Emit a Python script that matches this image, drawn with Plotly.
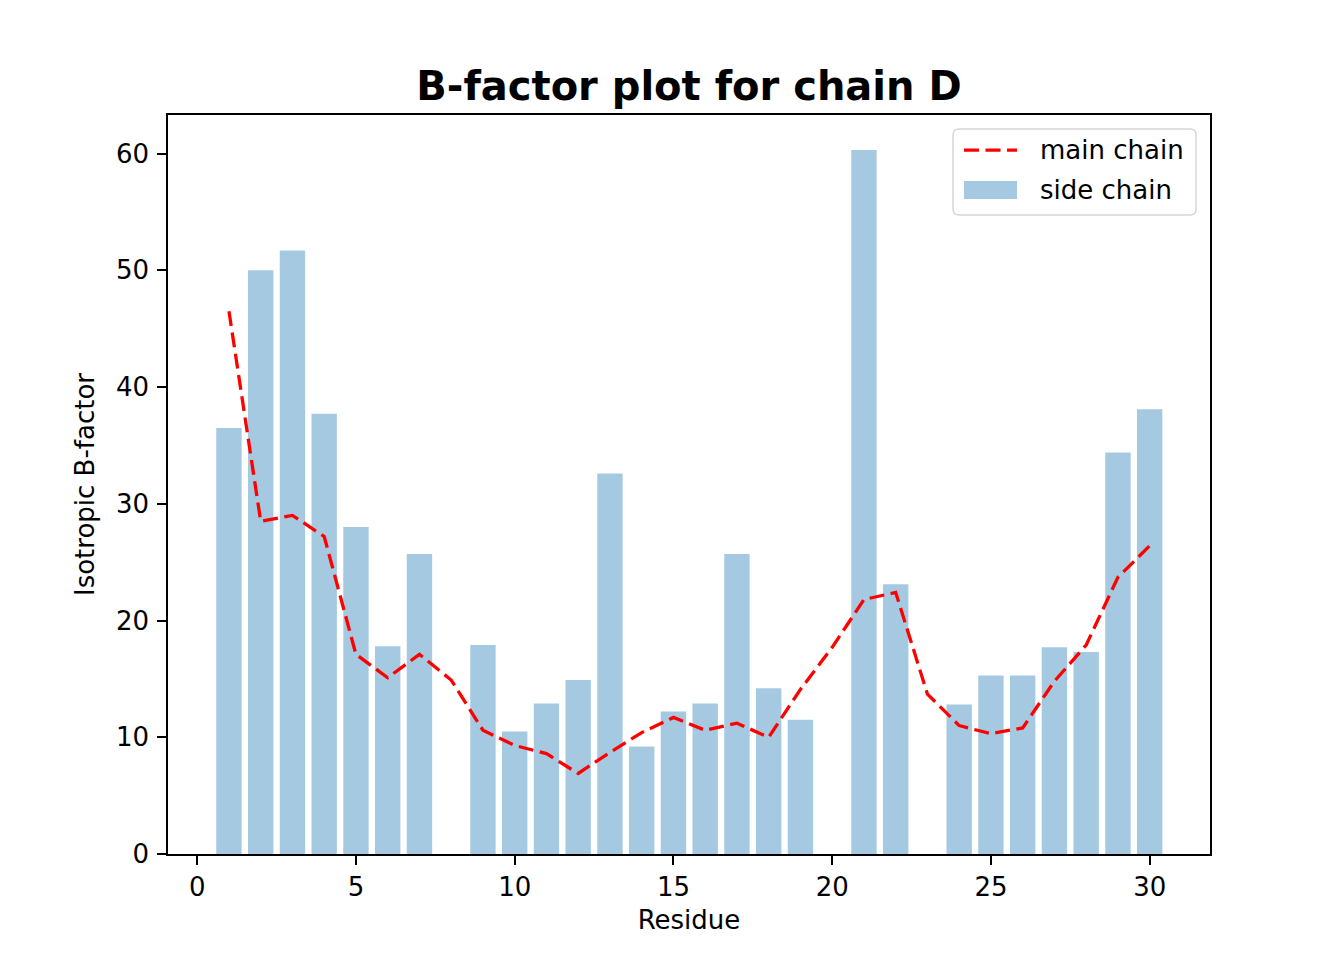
import plotly.graph_objects as go

# side chain B-factors (residues 8, 20 and 23 have no side chain)
side_residues = [1, 2, 3, 4, 5, 6, 7, 9, 10, 11, 12, 13, 14, 15, 16, 17, 18, 19,
                 21, 22, 24, 25, 26, 27, 28, 29, 30]
side_bfactor = [36.5, 50.0, 51.7, 37.7, 28.0, 17.8, 25.7, 17.9, 10.5, 12.9, 14.9,
                32.6, 9.2, 12.2, 12.9, 25.7, 14.2, 11.5, 60.3, 23.1, 12.8, 15.3,
                15.3, 17.7, 17.3, 34.4, 38.1]

# main chain B-factors, one per residue
main_residues = list(range(1, 31))
main_bfactor = [46.5, 28.5, 29.0, 27.2, 17.1, 15.1, 17.1, 14.9, 10.6, 9.3,
                8.6, 6.9, 8.7, 10.4, 11.7, 10.6, 11.2, 10.0, 14.1, 17.7,
                21.8, 22.4, 13.7, 11.0, 10.3, 10.8, 14.8, 17.9, 23.7, 26.4]

x_ticks = [0, 5, 10, 15, 20, 25, 30]
y_ticks = [0, 10, 20, 30, 40, 50, 60]

font = 'DejaVu Sans'
fsize = 26
line_color = 'red'
bar_color = 'rgba(31,119,180,0.4)'
dash = '15px,6.5px'

fig = go.Figure()
fig.add_trace(go.Scatter(x=main_residues, y=main_bfactor,
                         mode='lines',
                         name='main chain',
                         line=dict(color=line_color, width=3.3, dash=dash)))
fig.add_trace(go.Bar(x=side_residues, y=side_bfactor,
                     name='side chain',
                     width=0.8,
                     marker=dict(color=bar_color, line_width=0)))

axis_style = dict(showline=True, linecolor='black', linewidth=1.5, mirror=True,
                  ticks='outside', ticklen=9, tickwidth=1.5, tickcolor='black',
                  showgrid=False, zeroline=False,
                  tickfont=dict(family=font, size=fsize, color='black'))


# matplotlib-style legend box drawn in plot-area (paper) coordinates
def rounded_box(x0, y0, x1, y1, rx, ry):
    return (f'M{x0 + rx},{y0} L{x1 - rx},{y0} Q{x1},{y0} {x1},{y0 + ry} '
            f'L{x1},{y1 - ry} Q{x1},{y1} {x1 - rx},{y1} '
            f'L{x0 + rx},{y1} Q{x0},{y1} {x0},{y1 - ry} '
            f'L{x0},{y0 + ry} Q{x0},{y0} {x0 + rx},{y0} Z')


pw, ph = 1042, 739
legend_shapes = [
    dict(type='path', xref='paper', yref='paper',
         path=rounded_box(0.7534, 0.8647, 0.9866, 0.9811, 6 / pw, 6 / ph),
         fillcolor='rgba(255,255,255,0.8)', line=dict(color='#d6d6d6', width=1.5)),
    dict(type='line', xref='paper', yref='paper',
         x0=0.7639, x1=0.8148, y0=0.9526, y1=0.9526,
         line=dict(color=line_color, width=3.3, dash=dash)),
    dict(type='rect', xref='paper', yref='paper',
         x0=0.7639, x1=0.8148, y0=0.8863, y1=0.9107,
         fillcolor=bar_color, line_width=0),
]
legend_labels = [
    dict(text='main chain', x=0.8349, y=0.9526),
    dict(text='side chain', x=0.8349, y=0.8985),
]
annotations = [dict(xref='paper', yref='paper', xanchor='left', yanchor='middle',
                    showarrow=False, font=dict(family=font, size=fsize, color='black'),
                    **lab) for lab in legend_labels]

# page body has an 8px margin, so the margins are shifted by it
fig.update_layout(
    width=1344, height=960,
    margin=dict(l=160, r=142, t=107, b=114),
    paper_bgcolor='white', plot_bgcolor='white',
    font=dict(family=font, color='black'),
    title=dict(text='<b>B-factor plot for chain D</b>',
               x=(160 + 1202) / 2 / 1344, xanchor='center',
               y=1 - 78 / 960, yanchor='middle',
               font=dict(family=font, size=40, color='black')),
    xaxis=dict(range=[-0.92, 31.9], tickvals=x_ticks,
               title=dict(text='Residue', font=dict(family=font, size=fsize), standoff=10),
               **axis_style),
    yaxis=dict(range=[0, 63.3], tickvals=y_ticks, ticklabelstandoff=3,
               title=dict(text='Isotropic B-factor', font=dict(family=font, size=fsize), standoff=14),
               **axis_style),
    showlegend=False,
    shapes=legend_shapes,
    annotations=annotations,
    bargap=0.2,
)

fig.write_html("out.html")
